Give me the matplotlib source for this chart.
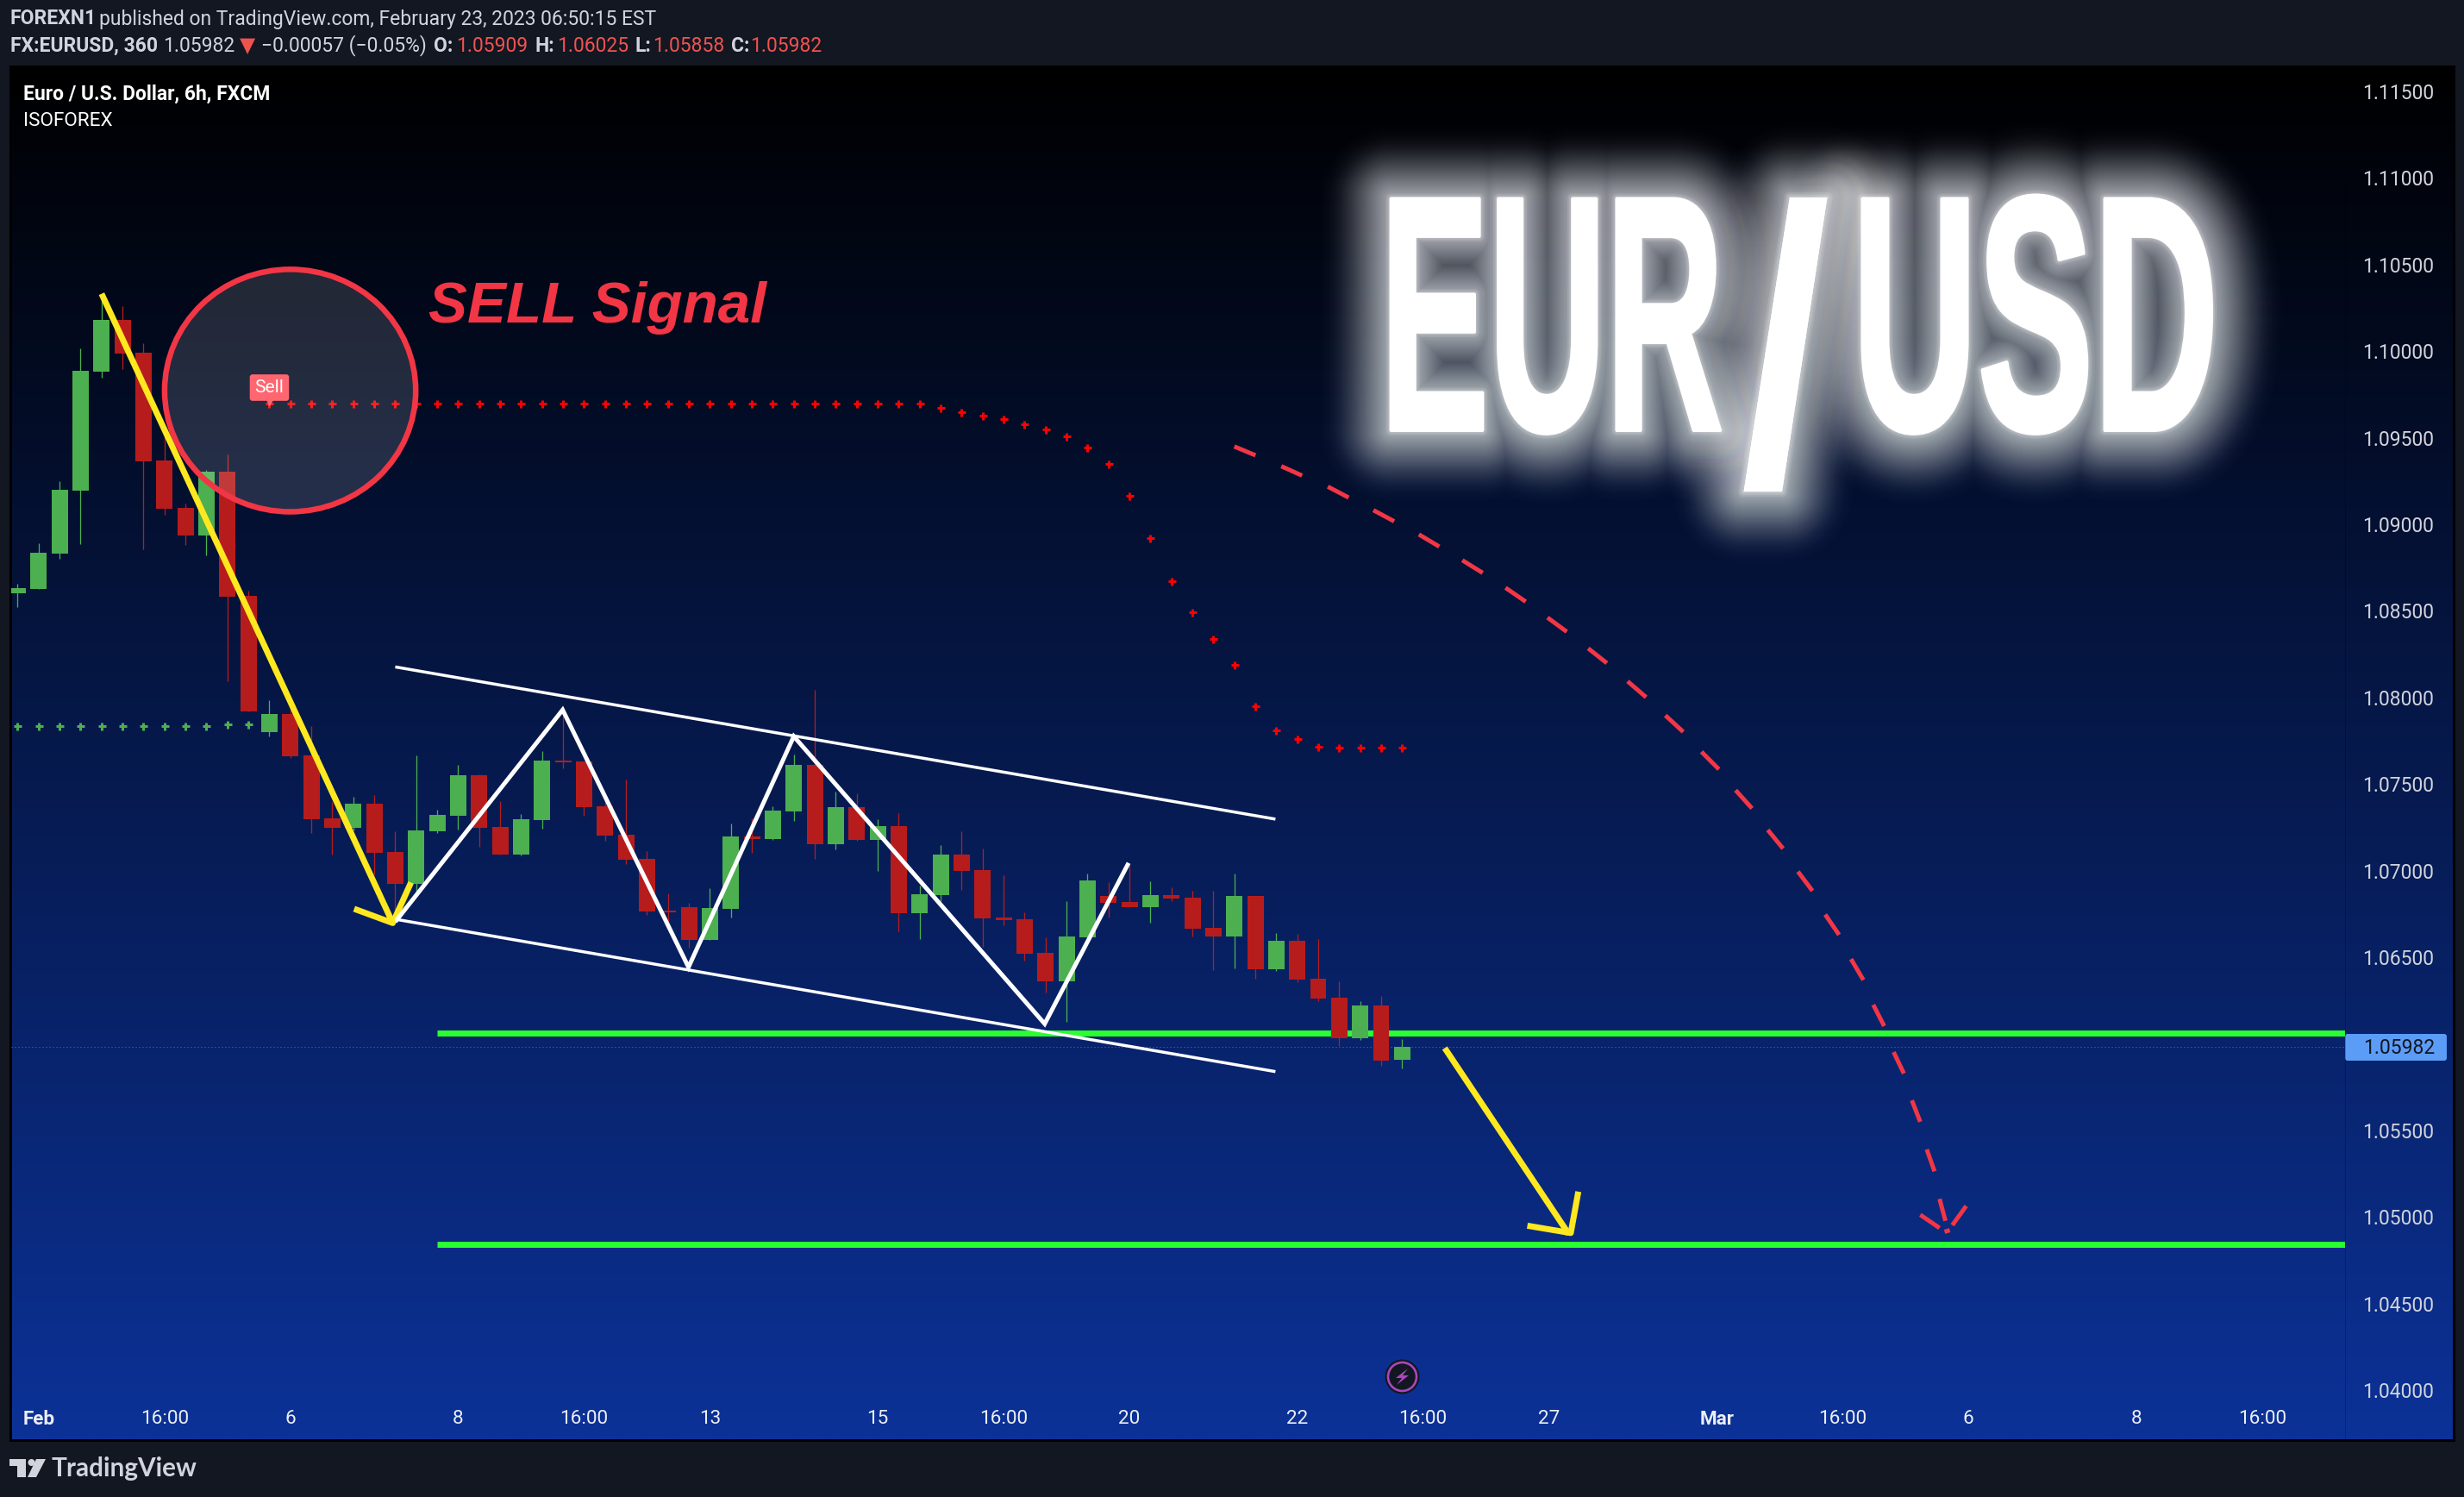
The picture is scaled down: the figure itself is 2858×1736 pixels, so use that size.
# Recreates the FX:EURUSD 6h TradingView snapshot
import numpy as np
import matplotlib
matplotlib.use("Agg")
import matplotlib.pyplot as plt
from matplotlib.patches import Ellipse, Rectangle, Circle, Polygon, FancyBboxPatch
from matplotlib.patheffects import AbstractPathEffect
from matplotlib.transforms import Affine2D

plt.rcParams['font.family'] = ['Roboto', 'DejaVu Sans']

# ----------------------------------------------------------------------
#  Data
# ----------------------------------------------------------------------
opens = [1.08603, 1.08626, 1.08832, 1.09195, 1.09881, 1.10181, 1.09990, 1.09368, 1.09096, 1.08936,
         1.09304, 1.08588, 1.07800, 1.07904, 1.07665, 1.07302, 1.07246, 1.07386, 1.07109, 1.06923,
         1.07228, 1.07317, 1.07551, 1.07251, 1.07093, 1.07292, 1.07635, 1.07630, 1.07371, 1.07207,
         1.07067, 1.06769, 1.06788, 1.06599, 1.06778, 1.07197, 1.07182, 1.07341, 1.07610, 1.07152,
         1.07366, 1.07177, 1.07257, 1.06754, 1.06858, 1.07092, 1.07003, 1.06729, 1.06719, 1.06525,
         1.06360, 1.06615, 1.06854, 1.06819, 1.06789, 1.06859, 1.06844, 1.06670, 1.06620, 1.06854,
         1.06430, 1.06595, 1.06376, 1.06266, 1.06032, 1.06221, 1.05909]
closes = [1.08631, 1.08837, 1.09200, 1.09886, 1.10181, 1.09985, 1.09363, 1.09091, 1.08936, 1.09304,
          1.08582, 1.07919, 1.07904, 1.07660, 1.07297, 1.07246, 1.07386, 1.07104, 1.06923, 1.07233,
          1.07322, 1.07551, 1.07246, 1.07093, 1.07297, 1.07635, 1.07627, 1.07368, 1.07202, 1.07062,
          1.06764, 1.06759, 1.06599, 1.06783, 1.07197, 1.07182, 1.07346, 1.07610, 1.07152, 1.07366,
          1.07177, 1.07257, 1.06754, 1.06863, 1.07092, 1.06998, 1.06724, 1.06714, 1.06520, 1.06360,
          1.06619, 1.06943, 1.06814, 1.06789, 1.06859, 1.06839, 1.06665, 1.06620, 1.06854, 1.06430,
          1.06595, 1.06371, 1.06261, 1.06032, 1.06221, 1.05903, 1.05982]
highs = [1.08654, 1.08890, 1.09251, 1.10018, 1.10318, 1.10260, 1.10046, 1.09518, 1.09119, 1.09314,
         1.09403, 1.08616, 1.07983, 1.07942, 1.07836, 1.07396, 1.07426, 1.07437, 1.07228, 1.07665,
         1.07353, 1.07609, 1.07556, 1.07401, 1.07327, 1.07691, 1.07894, 1.07630, 1.07396, 1.07525,
         1.07112, 1.06868, 1.06815, 1.06898, 1.07271, 1.07301, 1.07371, 1.07670, 1.08043, 1.07456,
         1.07446, 1.07296, 1.07331, 1.06913, 1.07147, 1.07227, 1.07127, 1.06973, 1.06759, 1.06614,
         1.06823, 1.06983, 1.06933, 1.07031, 1.06938, 1.06904, 1.06884, 1.06884, 1.06983, 1.06854,
         1.06640, 1.06635, 1.06605, 1.06361, 1.06246, 1.06276, 1.06025]
lows = [1.08521, 1.08626, 1.08798, 1.08885, 1.09848, 1.09894, 1.08854, 1.09055, 1.08880, 1.08821,
        1.08095, 1.07919, 1.07775, 1.07650, 1.07218, 1.07093, 1.07231, 1.06977, 1.06722, 1.06875,
        1.07218, 1.07236, 1.07137, 1.07093, 1.07088, 1.07241, 1.07590, 1.07316, 1.07172, 1.07039,
        1.06744, 1.06682, 1.06554, 1.06599, 1.06729, 1.07102, 1.07177, 1.07286, 1.07067, 1.07122,
        1.07172, 1.06998, 1.06649, 1.06604, 1.06823, 1.06888, 1.06558, 1.06684, 1.06480, 1.06295,
        1.06126, 1.06600, 1.06729, 1.06789, 1.06699, 1.06824, 1.06620, 1.06426, 1.06435, 1.06376,
        1.06420, 1.06356, 1.06246, 1.05987, 1.06022, 1.05873, 1.05858]

green_dots = [1.07835, 1.07835, 1.07835, 1.07835, 1.07835, 1.07835,
              1.07835, 1.07835, 1.07835, 1.07835, 1.07846, 1.07846]
red_dots = [1.09697] * 32 + [1.09671, 1.09646, 1.09626, 1.09606, 1.09576, 1.09545, 1.09507, 1.09442,
                             1.09347, 1.09163, 1.08919, 1.08670, 1.08491, 1.08336, 1.08189, 1.07948,
                             1.07808, 1.07759, 1.07714, 1.07709, 1.07709, 1.07709, 1.07709]
red_dots_start = 12

last_price = 1.05982
levels = [1.06062, 1.04842]
levels_start = 20

# 1.06 is covered by the price tag in the original
price_ticks = [1.04, 1.045, 1.05, 1.055, 1.065, 1.07, 1.075, 1.08, 1.085, 1.09, 1.095,
               1.10, 1.105, 1.11, 1.115]
time_ticks = [1, 7, 13, 21, 27, 33, 41, 47, 53, 61, 67, 73, 81, 87, 93, 101, 107]
time_labels = ['Feb', '16:00', '6', '8', '16:00', '13', '15', '16:00', '20', '22', '16:00', '27',
               'Mar', '16:00', '6', '8', '16:00']

# hand drawn lines, as (bar index, price)
fall_x = [4.0, 17.88]
fall_y = [1.10331, 1.06697]
fall_head_x = [16.04, 17.88, 18.75]
fall_head_y = [1.06779, 1.06697, 1.06931]
zigzag_x = [18.0, 25.98, 31.98, 37.0, 48.96, 52.96]
zigzag_y = [1.06704, 1.07928, 1.06442, 1.07775, 1.06115, 1.07044]
channel_x = [18.0, 59.96]
channel_top = [1.08176, 1.07297]
channel_bottom = [1.06719, 1.05839]
target_x = [68.03, 73.95]
target_y = [1.05975, 1.04900]
target_head_x = [71.97, 74.04, 74.40]
target_head_y = [1.04949, 1.04907, 1.05146]

# one row for each red dash: x0, x1, y0, y1
path_dashes = [
    [58.00, 59.01, 1.09449, 1.09398], [60.24, 61.23, 1.09335, 1.09281],
    [62.46, 63.45, 1.09217, 1.09154], [64.63, 65.62, 1.09081, 1.09017],
    [66.80, 67.77, 1.08941, 1.08871], [68.87, 69.84, 1.08792, 1.08719],
    [70.93, 71.89, 1.08633, 1.08553], [72.93, 73.85, 1.08461, 1.08379],
    [74.87, 75.76, 1.08283, 1.08198], [76.75, 77.63, 1.08093, 1.08001],
    [78.55, 79.40, 1.07896, 1.07801], [80.27, 81.10, 1.07686, 1.07585],
    [81.90, 82.68, 1.07464, 1.07359], [83.43, 84.16, 1.07235, 1.07127],
    [84.87, 85.56, 1.06994, 1.06883], [86.17, 86.83, 1.06746, 1.06629],
    [87.40, 87.99, 1.06489, 1.06368], [88.46, 88.98, 1.06225, 1.06102],
    [89.43, 89.92, 1.05952, 1.05828], [90.30, 90.70, 1.05673, 1.05549],
    [91.01, 91.38, 1.05390, 1.05263], [91.62, 91.90, 1.05104, 1.04977],
    [90.70, 91.62, 1.05012, 1.04936], [91.86, 92.11, 1.04914, 1.04923],
    [92.23, 92.89, 1.04952, 1.05063],
]

# ----------------------------------------------------------------------
#  Styles
# ----------------------------------------------------------------------
PX = 0.72  # points per pixel at dpi 100
W, H = 2858, 1736
UP = '#4caf50'
DOWN = '#b71c1c'
RED = '#f23645'
YELLOW = '#ffe81f'
LEVEL = '#2aff2f'
TXT = '#d1d4dc'
PAGE = '#131722'


class SqueezedStroke(AbstractPathEffect):
    # draws a text path narrower than its font, with a stroke round it
    def __init__(self, cx, sx, width=0.0, alpha=1.0):
        self.cx, self.sx, self.width, self.alpha = cx, sx, width, alpha

    def draw_path(self, renderer, gc, tpath, affine, rgbFace):
        squeeze = Affine2D().translate(-self.cx, 0).scale(self.sx, 1).translate(self.cx, 0)
        gc0 = renderer.new_gc()
        gc0.copy_properties(gc)
        gc0.set_foreground('white')
        gc0.set_linewidth(self.width * PX)
        gc0.set_joinstyle('round')
        gc0.set_alpha(self.alpha)
        renderer.draw_path(gc0, tpath, affine + squeeze, rgbFace)
        gc0.restore()


fig = plt.figure(figsize=(W / 100, H / 100), dpi=100, facecolor=PAGE)

# ----------------------------------------------------------------------
#  Page furniture, in pixels
# ----------------------------------------------------------------------
page = fig.add_axes([0, 0, 1, 1], zorder=0)
page.set_xlim(0, W)
page.set_ylim(H, 0)
page.axis('off')

shade = np.linspace(0, 1, 512)[:, None, None] * np.array([12, 50, 152]) / 255
page.imshow(shade, extent=(13, 2845, 1669, 78), aspect='auto', interpolation='bilinear')
page.set_xlim(0, W)
page.set_ylim(H, 0)
page.add_patch(Rectangle((12, 77), 2834, 1593, fill=False, ec='black', lw=3 * PX))


def label(x, y, s, color=TXT, weight='normal', size=16.5, **kw):
    page.text(x, y, s, color=color, fontweight=weight, fontsize=size, va='center', **kw)


label(12, 22, 'FOREXN1', weight='bold')
label(115, 22, 'published on TradingView.com, February 23, 2023 06:50:15 EST')
label(12, 53, 'FX:EURUSD, 360', weight='bold')
label(189, 53, '1.05982')
page.text(287, 53, '\u25bc', color='#ef5350', fontsize=17, ha='center', va='center', family='DejaVu Sans')
label(303, 53, '\u22120.00057 (\u22120.05%)')
for lx, vx, name, value in [(503, 529, 'O:', '1.05909'), (621, 646, 'H:', '1.06025'),
                            (737, 757, 'L:', '1.05858'), (848, 870, 'C:', '1.05982')]:
    label(lx, 53, name, weight='bold')
    label(vx, 53, value, color='#ef5350')

label(27, 109, 'Euro / U.S. Dollar, 6h, FXCM', color='white', weight='bold')
label(27, 140, 'ISOFOREX', color='white', size=16.2)
page.text(497, 357, 'SELL Signal', color=RED, fontsize=48.5, fontweight='bold', fontstyle='italic',
          family='Liberation Sans', va='center')

# big glowing title, the soft part first
soft_widths = np.arange(200, 14, -4)
halo_widths = [12, 8, 5]
for s, cx, base, size, sx, grow in [('EUR', 1800, 499, 281, 0.483, 4),
                                    ('/', 2071, 561, 330, 0.82, 0),
                                    ('USD', 2361, 499, 281, 0.516, 4)]:
    effects = [SqueezedStroke(cx, sx, w, 0.055 * (1 - w / 200) ** 1.3) for w in soft_widths]
    effects += [SqueezedStroke(cx, sx, w, 0.14) for w in halo_widths]
    effects.append(SqueezedStroke(cx, sx, grow, 1.0))
    page.text(cx, base, s, color='white', fontsize=size, fontweight='bold', family='Liberation Sans',
              ha='center', va='baseline', path_effects=effects)

# price tag
page.add_patch(FancyBboxPatch((2720, 1199), 118, 31, boxstyle='round,pad=0,rounding_size=3',
                              fc='#5b9cf6', ec='none'))
page.text(2783, 1215, '%.5f' % last_price, color=PAGE, fontsize=16.5, ha='center', va='center')

# lightning badge
page.add_patch(Circle((1626.5, 1596.5), 20, fc=PAGE, ec='none'))
page.add_patch(Circle((1626.5, 1596.5), 16.5, fc='none', ec='#ab47bc', lw=2.6 * PX))
page.add_patch(Polygon([(1633, 1587), (1619, 1598), (1626, 1598), (1620, 1606),
                        (1634, 1595), (1627, 1595)], fc='#ab47bc', ec='none'))

# TradingView logo
page.add_patch(Polygon([(11, 1692), (30, 1692), (30, 1713), (20, 1713), (20, 1700), (11, 1700)],
                       fc=TXT, ec='none'))
page.add_patch(Circle((36.5, 1696), 4, fc=TXT, ec='none'))
page.add_patch(Polygon([(42, 1692), (53, 1692), (42, 1713), (32, 1713)], fc=TXT, ec='none'))
page.text(60, 1703, 'TradingView', color=TXT, fontsize=21.4, fontweight='bold', family='Lato', va='center')

# ----------------------------------------------------------------------
#  Price chart
# ----------------------------------------------------------------------
ax = fig.add_axes([13 / W, 1 - 1669 / H, (2720 - 13) / W, (1669 - 78) / H], zorder=1)
ax.patch.set_alpha(0)
ax.set_xlim(-0.308, 110.95)
ax.set_ylim(1.03716, 1.11639)

o, c, hi, lo = map(np.array, (opens, closes, highs, lows))
idx = np.arange(len(o))
colors = np.where(c >= o, UP, DOWN)

ax.axhline(last_price, color='#3f78e0', lw=1 * PX, ls=(0, (1, 3)), zorder=1)
for level in levels:
    ax.plot([levels_start, ax.get_xlim()[1]], [level, level], color=LEVEL, lw=7 * PX,
            solid_capstyle='butt', zorder=2)

ax.vlines(idx, lo, hi, colors=colors, lw=1.3 * PX, zorder=3)
ax.bar(idx, np.abs(c - o), bottom=np.minimum(o, c), width=0.78, color=colors, zorder=3)

ax.plot(np.arange(len(green_dots)), green_dots, ls='none', marker='+', ms=9 * PX, mew=3 * PX,
        color=UP, zorder=3)
ax.plot(red_dots_start + np.arange(len(red_dots)), red_dots, ls='none', marker='+', ms=9 * PX,
        mew=3 * PX, color='#ff0000', zorder=3)

ax.add_patch(Ellipse((12.99, 1.09772), 11.97, 0.0140, fc=(1, 1, 1, 0.135), ec=RED, lw=6.5 * PX, zorder=4))

ax.plot([12], [1.09707], ls='none', marker='v', ms=7 * PX, color='#ff6670', zorder=5)
ax.text(12, 1.09789, 'Sell', color='white', fontsize=15, ha='center', va='center', zorder=6,
        bbox=dict(boxstyle='round,pad=0.28,rounding_size=0.15', fc='#ff6670', ec='none'))

ax.plot(channel_x, channel_top, color='white', lw=3.5 * PX, solid_capstyle='butt', zorder=5)
ax.plot(channel_x, channel_bottom, color='white', lw=3.5 * PX, solid_capstyle='butt', zorder=5)
ax.plot(zigzag_x, zigzag_y, color='white', lw=5 * PX, solid_capstyle='butt', solid_joinstyle='miter', zorder=5)

ax.plot(fall_x, fall_y, color=YELLOW, lw=7 * PX, solid_capstyle='butt', zorder=6)
ax.plot(fall_head_x, fall_head_y, color=YELLOW, lw=7 * PX, solid_capstyle='butt', zorder=4.5)
ax.plot(target_x, target_y, color=YELLOW, lw=7 * PX, solid_capstyle='butt', zorder=6)
ax.plot(target_head_x, target_head_y, color=YELLOW, lw=7 * PX, solid_capstyle='butt', zorder=6)

dashes = np.array(path_dashes)
ax.plot(dashes[:, :2].T, dashes[:, 2:].T, color=RED, lw=5 * PX, solid_capstyle='butt', zorder=5)

# axes
for name, spine in ax.spines.items():
    spine.set_visible(False)
ax.spines['right'].set_visible(True)
ax.spines['right'].set_color((0, 0, 0, 0.25))
ax.spines['right'].set_linewidth(1 * PX)

ax.yaxis.tick_right()
ax.set_yticks(price_ticks)
ax.set_yticklabels(['%.5f' % p for p in price_ticks])
ax.tick_params(axis='y', length=0, pad=20 * PX, labelsize=16.5, labelcolor=TXT)

ax.set_xticks(time_ticks)
ax.set_xticklabels(time_labels)
ax.tick_params(axis='x', length=0, pad=-34 * PX, labelsize=16.2, labelcolor='#eceef3')
for tick in ax.get_xticklabels():
    if tick.get_text() in ('Feb', 'Mar'):
        tick.set_fontweight('bold')

fig.savefig('out.png', dpi=100, facecolor=PAGE)
